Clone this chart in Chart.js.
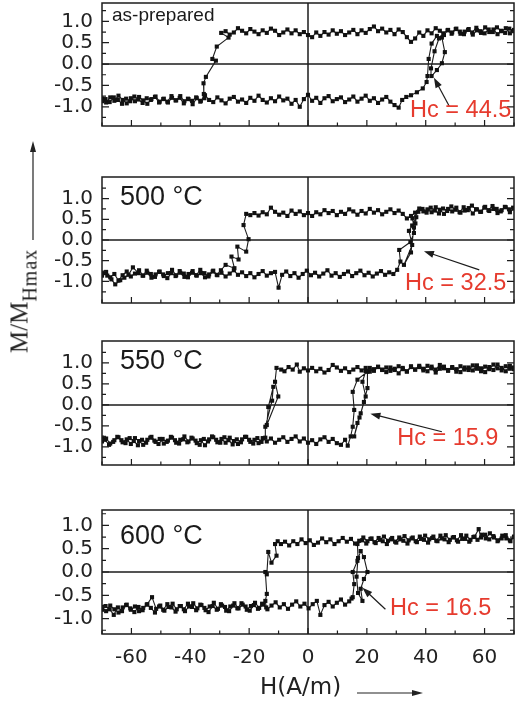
<!DOCTYPE html>
<html>
<head>
<meta charset="utf-8">
<script src="https://cdn.jsdelivr.net/npm/chart.js@4.4.0/dist/chart.umd.min.js"></script>
<style>
  html, body { margin: 0; padding: 0; background: #fff; }
  #page { position: relative; width: 517px; height: 704px; overflow: hidden; background: #fff; }
  #page canvas { position: absolute; left: 0; }
  #ytitle { position: absolute; left: 20px; top: 301px; transform: translate(-50%, -50%) rotate(-90deg);
            font: 25px/25px "Liberation Serif", "Times New Roman", serif; color: #222; white-space: nowrap; }
  #ytitle span { font-size: 20px; position: relative; top: 9px; letter-spacing: 1px; }
  #xtitle { position: absolute; left: 260px; top: 675px; font: 23px/23px "DejaVu Sans", sans-serif; color: #222; white-space: nowrap; }
  #arrows { position: absolute; left: 0; top: 0; }
</style>
</head>
<body>
<div id="page">
  <canvas id="c1" width="518" height="143" style="top:-7px"></canvas>
  <canvas id="c2" width="518" height="146" style="top:167px"></canvas>
  <canvas id="c3" width="518" height="144" style="top:331px"></canvas>
  <canvas id="c4" width="518" height="204" style="top:500px"></canvas>
  <div id="ytitle">M/M<span>Hmax</span></div>
  <div id="xtitle">H(A/m)</div>
  <svg id="arrows" width="517" height="704">
    <line x1="33" y1="240" x2="33" y2="150" stroke="#222" stroke-width="1.2"/>
    <polygon points="33,141 30,152 36,152" fill="#222"/>
    <line x1="357" y1="693" x2="414" y2="693" stroke="#222" stroke-width="1.2"/>
    <polygon points="423,693 412,690 412,696" fill="#222"/>
  </svg>
</div>
<script>
// tick positions
const xTicks = [-60, -40, -20, 0, 20, 40, 60];
const xMinorTicks = [-70, -50, -30, -10, 10, 30, 50, 70];
const yTicks = [-1, -0.5, 0, 0.5, 1];
const yMinorTicks = [-1.25, -0.75, -0.25, 0.25, 0.75, 1.25];

// as-prepared: [H, M/MHmax]
const asPrepDown = [[70,0.8],[68.6,0.72],[67.2,0.84],[65.8,0.77],[64.4,0.7],[63,0.81],[61.6,0.75],[60.2,0.86],[58.8,0.73],[57.4,0.79],[56,0.69],[54.6,0.82],[53.2,0.76],[51.8,0.71],[50.4,0.83],[49,0.74],[47.6,0.8],[46.2,0.68],[44.8,0.78],[43.4,0.84],[42,0.72],[40.6,0.79],[39.2,0.66],[37.8,0.74],[36.4,0.6],[35,0.52],[33.6,0.63],[32.2,0.75],[30.8,0.81],[29.4,0.7],[28,0.8],[26.6,0.74],[25.2,0.83],[23.8,0.77],[22.4,0.88],[21,0.82],[19.6,0.73],[18.2,0.79],[16.8,0.7],[15.4,0.8],[14,0.74],[12.6,0.68],[11.2,0.77],[9.8,0.71],[8.4,0.79],[7,0.69],[5.6,0.75],[4.2,0.66],[2.8,0.74],[1.4,0.63],[0,0.68],[-1.4,0.75],[-2.8,0.7],[-4.2,0.79],[-5.6,0.72],[-7,0.81],[-8.4,0.74],[-9.8,0.68],[-11.2,0.78],[-12.6,0.83],[-14,0.73],[-15.4,0.79],[-16.8,0.7],[-18.2,0.76],[-19.6,0.82],[-21,0.72],[-22.4,0.78],[-23.8,0.84],[-25.2,0.74],[-26.6,0.69],[-28,0.77],[-29.5,0.73],[-27,0.62],[-31,0.41],[-32.5,0.12],[-31.3,0.08],[-34.7,-0.3],[-35.5,-0.45],[-35.4,-0.7],[-35.2,-0.8],[-36.6,-0.88],[-38,-0.78],[-39.4,-0.86],[-40.8,-0.81],[-42.2,-0.92],[-43.6,-0.79],[-45,-0.85],[-46.4,-0.75],[-47.8,-0.88],[-49.2,-0.82],[-50.6,-0.9],[-52,-0.77],[-53.4,-0.84],[-54.8,-0.8],[-56.2,-0.91],[-57.6,-0.83],[-59,-0.76],[-60.4,-0.87],[-61.8,-0.81],[-63.2,-0.93],[-64.6,-0.84],[-66,-0.78],[-67.4,-0.89],[-68.8,-0.82],[-70,-0.87]];
const asPrepUp = [[-70,-0.81],[-68.6,-0.9],[-67.2,-0.78],[-65.8,-0.86],[-64.4,-0.74],[-63,-0.84],[-61.6,-0.92],[-60.2,-0.8],[-58.8,-0.87],[-57.4,-0.77],[-56,-0.85],[-54.6,-0.93],[-53.2,-0.82],[-51.8,-0.76],[-50.4,-0.88],[-49,-0.81],[-47.6,-0.9],[-46.2,-0.79],[-44.8,-0.85],[-43.4,-0.75],[-42,-0.87],[-40.6,-0.82],[-39.2,-0.94],[-37.8,-0.8],[-36.4,-0.86],[-35,-0.73],[-33.6,-0.84],[-32.2,-0.89],[-30.8,-0.78],[-29.4,-0.85],[-28,-0.92],[-26.6,-0.81],[-25.2,-0.77],[-23.8,-0.88],[-22.4,-0.83],[-21,-0.91],[-19.6,-0.79],[-18.2,-0.86],[-16.8,-0.74],[-15.4,-0.84],[-14,-0.9],[-12.6,-0.8],[-11.2,-0.87],[-9.8,-0.76],[-8.4,-0.85],[-7,-0.81],[-5.6,-0.93],[-4.2,-0.84],[-2.8,-1.0],[-1.4,-0.82],[0,-0.72],[1.4,-0.86],[2.8,-0.79],[4.2,-0.91],[5.6,-0.8],[7,-0.75],[8.4,-0.87],[9.8,-0.82],[11.2,-0.78],[12.6,-0.89],[14,-0.83],[15.4,-0.76],[16.8,-0.88],[18.2,-0.81],[19.6,-0.74],[21,-0.86],[22.4,-0.8],[23.8,-0.91],[25.2,-0.83],[26.6,-0.77],[28,-0.88],[29.4,-0.96],[30.8,-1.02],[32,-0.84],[33.4,-0.77],[35,-0.73],[37,-0.66],[39,-0.57],[40.3,-0.42],[40.6,-0.28],[41,0.12],[42,0.48],[43.8,0.66],[45.5,0.62],[46.5,0.28],[45.5,0.02],[43.8,-0.14],[42,-0.28],[41.8,-0.1],[43,0.3],[44.5,0.6],[46,0.72],[47.4,0.79],[48.8,0.71],[50.2,0.82],[51.6,0.76],[53,0.7],[54.4,0.8],[55.8,0.74],[57.2,0.85],[58.6,0.77],[60,0.72],[61.4,0.81],[62.8,0.75],[64.2,0.86],[65.6,0.78],[67,0.73],[68.4,0.83],[69.6,0.77]];

// 500 °C
const t500Down = [[70,0.76],[68.6,0.67],[67.2,0.79],[65.8,0.72],[64.4,0.65],[63,0.75],[61.6,0.7],[60.2,0.8],[58.8,0.68],[57.4,0.74],[56,0.64],[54.6,0.77],[53.2,0.71],[51.8,0.66],[50.4,0.78],[49,0.69],[47.6,0.75],[46.2,0.63],[44.8,0.73],[43.4,0.79],[42,0.67],[40.6,0.74],[39.2,0.69],[37.8,0.76],[36.4,0.66],[35,0.58],[33.6,0.52],[32.2,0.63],[30.8,0.71],[29.4,0.65],[28,0.74],[26.6,0.68],[25.2,0.62],[23.8,0.72],[22.4,0.66],[21,0.75],[19.6,0.64],[18.2,0.7],[16.8,0.61],[15.4,0.69],[14,0.74],[12.6,0.63],[11.2,0.68],[9.8,0.6],[8.4,0.7],[7,0.65],[5.6,0.72],[4.2,0.62],[2.8,0.67],[1.4,0.58],[0,0.65],[-1.4,0.6],[-2.8,0.69],[-4.2,0.63],[-5.6,0.71],[-7,0.58],[-8.4,0.66],[-9.8,0.61],[-11.2,0.68],[-12.6,0.78],[-14,0.62],[-15.4,0.67],[-16.8,0.59],[-18.2,0.65],[-19.6,0.6],[-21,0.63],[-21.9,0.36],[-20.2,0.02],[-21,-0.28],[-24,-0.16],[-23.6,-0.47],[-26,-0.4],[-25,-0.68],[-28,-0.6],[-29.6,-0.73],[-31,-0.84],[-32.4,-0.76],[-33.8,-0.88],[-35.2,-0.8],[-36.6,-0.72],[-38,-0.85],[-39.4,-0.79],[-40.8,-0.9],[-42.2,-0.81],[-43.6,-0.75],[-45,-0.87],[-46.4,-0.8],[-47.8,-0.92],[-49.2,-0.83],[-50.6,-0.77],[-52,-0.89],[-53.4,-0.82],[-54.8,-0.74],[-56.2,-0.86],[-57.6,-0.8],[-59.5,-0.66],[-61,-0.84],[-62.4,-0.91],[-63.8,-0.97],[-65.5,-1.07],[-66.8,-0.95],[-68.2,-0.86],[-69.6,-0.8]];
const t500Up = [[-70,-0.86],[-68.6,-0.77],[-67.2,-0.9],[-65.8,-0.82],[-64.4,-0.98],[-63,-0.85],[-61.6,-0.76],[-60.2,-0.88],[-58.8,-0.81],[-57.4,-0.73],[-56,-0.86],[-54.6,-0.79],[-53.2,-0.91],[-51.8,-0.83],[-50.4,-0.76],[-49,-0.87],[-47.6,-0.8],[-46.2,-0.72],[-44.8,-0.85],[-43.4,-0.79],[-42,-0.89],[-40.6,-0.82],[-39.2,-0.75],[-37.8,-0.86],[-36.4,-0.8],[-35,-0.9],[-33.6,-0.83],[-32.2,-0.74],[-30.8,-0.85],[-29.4,-0.79],[-28,-0.88],[-26.6,-0.81],[-25.2,-0.73],[-23.8,-0.84],[-22.4,-0.78],[-21,-0.87],[-19.6,-0.8],[-18.2,-0.9],[-16.8,-0.82],[-15.4,-0.75],[-14,-0.86],[-12.6,-0.8],[-11.2,-0.77],[-10,-1.15],[-8.8,-0.84],[-7.4,-0.76],[-6,-0.87],[-4.6,-0.8],[-3.2,-0.91],[-1.8,-0.82],[-0.4,-0.74],[1,-0.85],[2.4,-0.79],[3.8,-0.88],[5.2,-0.81],[6.6,-0.73],[8,-0.86],[9.4,-0.8],[10.8,-0.89],[12.2,-0.82],[13.6,-0.76],[15,-0.87],[16.4,-0.8],[17.8,-0.74],[19.2,-0.85],[20.6,-0.79],[22,-0.88],[23.4,-0.81],[24.8,-0.75],[26.2,-0.84],[27.6,-0.78],[29,-0.82],[30.3,-0.72],[31.4,-0.52],[31,-0.24],[34.8,-0.05],[36,0.17],[36.5,0.4],[36.8,0.55],[35.4,0.35],[34.3,0.22],[35.4,-0.12],[32.6,-0.6],[35,-0.3],[36,0.3],[35.5,0.52],[37.5,0.68],[38.9,0.75],[40.3,0.66],[41.7,0.78],[43.1,0.71],[44.5,0.64],[45.9,0.76],[47.3,0.7],[48.7,0.81],[50.1,0.73],[51.5,0.67],[52.9,0.79],[54.3,0.72],[55.7,0.83],[57.1,0.74],[58.5,0.68],[59.9,0.78],[61.3,0.72],[62.7,0.82],[64.1,0.75],[65.5,0.69],[66.9,0.8],[68.3,0.74],[69.7,0.78]];

// 550 °C
const t550Down = [[70,0.85],[68.6,0.93],[67.2,0.8],[65.8,0.88],[64.4,0.96],[63,0.83],[61.6,0.9],[60.2,0.78],[58.8,0.87],[57.4,0.94],[56,0.82],[54.6,0.89],[53.2,0.84],[51.8,0.92],[50.4,0.79],[49,0.88],[47.6,0.83],[46.2,0.91],[44.8,0.86],[43.4,0.77],[42,0.87],[40.6,0.93],[39.2,0.82],[37.8,0.9],[36.4,0.84],[35,0.92],[33.6,0.8],[32.2,0.88],[30.8,0.75],[29.4,0.86],[28,0.81],[26.6,0.89],[25.2,0.83],[23.8,0.91],[22.4,0.85],[21,0.79],[19.6,0.88],[18.2,0.82],[16.8,0.9],[15.4,0.84],[14,0.78],[12.6,0.87],[11.2,0.81],[9.8,0.89],[8.4,0.95],[7,0.83],[5.6,0.77],[4.2,0.86],[2.8,0.8],[1.4,0.88],[0,0.82],[-1.4,0.87],[-2.8,0.79],[-3.8,0.96],[-5.2,0.84],[-6.6,0.9],[-8,0.8],[-9.1,0.84],[-10.7,0.88],[-11.2,0.55],[-10.1,0.2],[-14,-0.48],[-13.5,-0.05],[-11.8,0.43],[-12.2,0.1],[-14.5,-0.52],[-14.5,-0.78],[-15.8,-0.88],[-17.2,-0.79],[-18.6,-0.92],[-20,-0.83],[-21.4,-0.76],[-22.8,-0.89],[-24.2,-0.82],[-25.6,-0.94],[-27,-0.84],[-28.4,-0.77],[-29.8,-0.9],[-31.2,-0.83],[-32.6,-0.75],[-34,-0.87],[-35.4,-0.81],[-36.8,-0.95],[-38.2,-0.85],[-39.6,-0.78],[-41,-0.89],[-42.4,-0.82],[-43.8,-0.92],[-45.2,-0.84],[-46.6,-0.76],[-48,-0.88],[-49.4,-0.81],[-50.8,-0.93],[-52.2,-0.85],[-53.6,-0.78],[-55,-0.9],[-56.4,-0.83],[-57.8,-0.96],[-59.2,-0.86],[-60.6,-0.79],[-62,-0.91],[-63.4,-0.84],[-64.8,-0.76],[-66.2,-0.88],[-67.6,-0.95],[-69,-0.83],[-70,-0.78]];
const t550Up = [[-70,-0.87],[-68.6,-0.8],[-67.2,-0.92],[-65.8,-0.84],[-64.4,-0.77],[-63,-0.89],[-61.6,-0.82],[-60.2,-0.93],[-58.8,-0.79],[-57.4,-0.86],[-56,-0.95],[-54.6,-0.83],[-53.2,-0.76],[-51.8,-0.88],[-50.4,-0.81],[-49,-0.92],[-47.6,-0.85],[-46.2,-0.78],[-44.8,-0.9],[-43.4,-0.83],[-42,-0.75],[-40.6,-0.87],[-39.2,-0.8],[-37.8,-0.91],[-36.4,-0.84],[-35,-0.96],[-33.6,-0.82],[-32.2,-0.77],[-30.8,-0.89],[-29.4,-0.81],[-28,-0.9],[-26.6,-0.78],[-25.2,-0.86],[-23.8,-0.93],[-22.4,-0.82],[-21,-0.76],[-19.6,-0.88],[-18.2,-0.83],[-16.8,-0.91],[-15.4,-0.79],[-14,-0.87],[-12.6,-0.8],[-11.2,-0.9],[-9.8,-0.83],[-8.4,-0.77],[-7,-0.88],[-5.6,-0.81],[-4.2,-0.75],[-2.8,-0.87],[-1.4,-0.8],[0,-0.9],[1.4,-0.84],[2.8,-0.93],[4.2,-0.82],[5.6,-0.77],[7,-0.88],[8.4,-0.81],[9.8,-0.91],[11.2,-0.95],[12.6,-0.83],[13.5,-0.97],[14.5,-0.75],[15.2,-0.52],[15.7,-0.12],[15.2,0.31],[16.8,0.6],[20.2,0.79],[20.2,0.4],[19,0.07],[17.9,-0.2],[16.8,-0.43],[15.7,-0.75],[17.5,-0.3],[19.6,0.2],[18.5,0.55],[19.6,0.8],[21,0.88],[22.4,0.81],[23.8,0.9],[25.2,0.84],[26.6,0.78],[28,0.89],[29.4,0.83],[30.8,0.92],[32.2,0.85],[33.6,0.79],[35,0.9],[36.4,0.84],[37.8,0.93],[39.2,0.86],[40.6,0.8],[42,0.91],[43.4,0.84],[44.8,0.95],[46.2,0.87],[47.6,0.81],[49,0.9],[50.4,0.85],[51.8,0.78],[53.2,0.89],[54.6,0.83],[56,0.94],[57.4,0.86],[58.8,0.8],[60.2,0.91],[61.6,0.85],[63,0.96],[64.4,0.87],[65.8,0.82],[67.2,0.92],[68.6,0.86],[70,0.89]];

// 600 °C
const t600Down = [[70,0.75],[68.6,0.68],[67.2,0.79],[65.8,0.72],[64.4,0.66],[63,0.77],[61.6,0.7],[60.2,0.8],[58.8,0.74],[58,0.92],[56.6,0.76],[55.2,0.69],[53.8,0.78],[52.4,0.71],[51,0.65],[49.6,0.75],[48.2,0.69],[46.8,0.79],[45.4,0.72],[44,0.66],[42.6,0.76],[41.2,0.7],[39.8,0.78],[38.4,0.71],[37,0.64],[35.6,0.74],[34.2,0.68],[32.8,0.77],[31.4,0.7],[30,0.63],[28.6,0.73],[27.2,0.67],[25.8,0.76],[24.4,0.69],[23,0.62],[21.6,0.72],[20.2,0.66],[18.8,0.74],[17.4,0.67],[16,0.61],[14.6,0.71],[13.2,0.65],[11.8,0.73],[10.4,0.66],[9,0.6],[7.6,0.7],[6.2,0.64],[4.8,0.72],[3.4,0.63],[2,0.58],[0.6,0.68],[-0.8,0.62],[-2.2,0.7],[-3.6,0.6],[-5,0.66],[-6.4,0.57],[-7.8,0.65],[-9.2,0.6],[-10.3,0.66],[-11.2,0.6],[-10.7,0.35],[-12.4,0.2],[-13.5,0.43],[-14,-0.05],[-14.5,0.0],[-14,-0.47],[-14.5,-0.62],[-14.2,-0.76],[-15.6,-0.68],[-17,-0.79],[-18.4,-0.71],[-19.8,-0.83],[-21.2,-0.74],[-22.6,-0.67],[-24,-0.78],[-25.4,-0.72],[-26.8,-0.84],[-28.2,-0.75],[-29.6,-0.69],[-31,-0.81],[-32.4,-0.73],[-33.8,-0.86],[-35.2,-0.77],[-36.6,-0.7],[-38,-0.82],[-39.4,-0.75],[-40.8,-0.68],[-42.2,-0.8],[-43.6,-0.73],[-45,-0.85],[-46.4,-0.76],[-47.8,-0.69],[-49.2,-0.81],[-50.6,-0.74],[-52,-0.87],[-53.4,-0.77],[-54.8,-0.7],[-56.2,-0.82],[-57.6,-0.75],[-59,-0.86],[-60.4,-0.78],[-61.8,-0.71],[-63.2,-0.84],[-64.6,-0.76],[-66,-0.92],[-67.4,-0.8],[-68.8,-0.73],[-70,-0.81]];
const t600Up = [[-70,-0.75],[-68.6,-0.84],[-67.2,-0.72],[-65.8,-0.8],[-64.4,-0.87],[-63,-0.76],[-61.6,-0.7],[-60.2,-0.81],[-58.8,-0.74],[-57.4,-0.84],[-56,-0.77],[-54.6,-0.69],[-53,-0.54],[-51.6,-0.79],[-50.2,-0.72],[-48.8,-0.83],[-47.4,-0.75],[-46,-0.68],[-44.6,-0.8],[-43.2,-0.73],[-41.8,-0.84],[-40.4,-0.74],[-39,-0.67],[-37.6,-0.78],[-36.2,-0.71],[-34.8,-0.82],[-33.4,-0.74],[-32,-0.66],[-30.6,-0.79],[-29.2,-0.72],[-27.8,-0.83],[-26.4,-0.74],[-25,-0.67],[-23.6,-0.78],[-22.2,-0.7],[-20.8,-0.81],[-19.4,-0.73],[-18,-0.66],[-16.6,-0.77],[-15.2,-0.7],[-13.8,-0.8],[-12.4,-0.72],[-11,-0.65],[-9.6,-0.76],[-8.2,-0.69],[-6.8,-0.79],[-5.4,-0.7],[-4,-0.63],[-2.6,-0.74],[-1.2,-0.68],[0.2,-0.78],[1.6,-0.69],[3,-0.62],[4.2,-0.92],[5.6,-0.71],[7,-0.64],[8.4,-0.74],[9.8,-0.66],[11.2,-0.59],[12.6,-0.7],[14,-0.63],[14.8,-0.57],[15.2,-0.54],[15.7,-0.26],[15.2,0.0],[16.8,0.24],[17.9,0.45],[19,0.32],[20.2,0.0],[19,-0.15],[17.9,-0.36],[18.5,-0.62],[17,-0.45],[16.5,-0.1],[17,0.3],[16.8,0.6],[18.4,0.68],[19.8,0.61],[21.2,0.71],[22.6,0.64],[24,0.73],[25.4,0.66],[26.8,0.6],[28.2,0.7],[29.6,0.65],[31,0.74],[32.4,0.67],[33.8,0.61],[35.2,0.72],[36.6,0.66],[38,0.76],[39.4,0.69],[40.8,0.63],[42.2,0.73],[43.6,0.67],[45,0.78],[46.4,0.7],[47.8,0.64],[49.2,0.74],[50.6,0.68],[52,0.79],[53.4,0.71],[54.8,0.65],[56.2,0.75],[57.6,0.69],[59,0.8],[60.4,0.72],[61.8,0.83],[63.2,0.74],[64.6,0.68],[66,0.78],[67.4,0.72],[68.8,0.66],[70,0.76]];

const INK = '#1c1c1c';
const RED = '#e63b2e';
const TICK_FONT = { family: '"DejaVu Sans", sans-serif', size: 20 };

const panels = [
    { id: 'c1', yMin: -1.45, yMax: 1.43, down: asPrepDown, up: asPrepUp, showX: false,
      label: 'as-prepared', labelFont: '19px "Liberation Sans", Arial, sans-serif', labelDx: 10, labelDy: 18,
      hc: 'Hc = 44.5', hcAt: [34.7, -1.24], arrow: [48.1, -1.0, 42.8, -0.32] },
    { id: 'c2', yMin: -1.52, yMax: 1.52, down: t500Down, up: t500Up, showX: false,
      label: '500 °C', labelFont: '27px "Liberation Sans", Arial, sans-serif', labelDx: 18, labelDy: 28,
      hc: 'Hc = 32.5', hcAt: [33.0, -1.2], arrow: [58.2, -0.72, 39.4, -0.27] },
    { id: 'c3', yMin: -1.43, yMax: 1.52, down: t550Down, up: t550Up, showX: false,
      label: '550 °C', labelFont: '27px "Liberation Sans", Arial, sans-serif', labelDx: 18, labelDy: 28,
      hc: 'Hc = 15.9', hcAt: [30.3, -0.95], arrow: [45.5, -0.64, 21.2, -0.21] },
    { id: 'c4', yMin: -1.33, yMax: 1.33, down: t600Down, up: t600Up, showX: true,
      label: '600 °C', labelFont: '27px "Liberation Sans", Arial, sans-serif', labelDx: 18, labelDy: 34,
      hc: 'Hc = 16.5', hcAt: [27.9, -0.92], arrow: [26.3, -0.8, 18.5, -0.34] }
];

function loopDataset(points) {
    return {
        data: points.map(p => ({x: p[0], y: p[1]})),
        showLine: true,
        borderColor: INK,
        borderWidth: 1.1,
        pointStyle: 'rect',
        pointRadius: 2.9,
        pointBackgroundColor: '#111',
        pointBorderColor: '#111',
        pointBorderWidth: 0,
        tension: 0
    };
}

// frame, inward ticks, zero lines and annotations
const panelDecor = {
    id: 'panelDecor',
    beforeDatasetsDraw(chart) {
        const {ctx, chartArea: a, scales: {x, y}} = chart;
        ctx.save();
        ctx.strokeStyle = INK;
        ctx.lineWidth = 1.5;
        ctx.beginPath();
        ctx.moveTo(a.left, y.getPixelForValue(0));
        ctx.lineTo(a.right, y.getPixelForValue(0));
        ctx.moveTo(x.getPixelForValue(0), a.top);
        ctx.lineTo(x.getPixelForValue(0), a.bottom);
        ctx.stroke();
        ctx.restore();
    },
    afterDraw(chart) {
        const {ctx, chartArea: a, scales: {x, y}} = chart;
        const p = chart.options.plugins.panelDecor.panel;
        ctx.save();
        ctx.strokeStyle = INK;
        ctx.lineWidth = 1.5;
        ctx.strokeRect(a.left, a.top, a.right - a.left, a.bottom - a.top);

        ctx.lineWidth = 1.2;
        ctx.beginPath();
        yTicks.concat(yMinorTicks).forEach(v => {
            if (v < p.yMin || v > p.yMax) return;
            const len = yTicks.includes(v) ? 7 : 4;
            const py = y.getPixelForValue(v);
            ctx.moveTo(a.left, py); ctx.lineTo(a.left + len, py);
            ctx.moveTo(a.right, py); ctx.lineTo(a.right - len, py);
        });
        xTicks.concat(xMinorTicks).forEach(v => {
            const len = xTicks.includes(v) ? 6 : 3.5;
            const px = x.getPixelForValue(v);
            ctx.moveTo(px, a.bottom); ctx.lineTo(px, a.bottom - len);
        });
        ctx.stroke();

        // panel label
        ctx.fillStyle = '#1a1a1a';
        ctx.font = p.labelFont;
        ctx.textBaseline = 'alphabetic';
        ctx.fillText(p.label, a.left + p.labelDx, a.top + p.labelDy);

        // coercivity arrow
        const [h0, m0, h1, m1] = p.arrow;
        const x0 = x.getPixelForValue(h0), y0 = y.getPixelForValue(m0);
        const x1 = x.getPixelForValue(h1), y1 = y.getPixelForValue(m1);
        const ang = Math.atan2(y1 - y0, x1 - x0);
        ctx.lineWidth = 1.2;
        ctx.beginPath();
        ctx.moveTo(x0, y0);
        ctx.lineTo(x1 - 8 * Math.cos(ang), y1 - 8 * Math.sin(ang));
        ctx.stroke();
        ctx.beginPath();
        ctx.moveTo(x1, y1);
        ctx.lineTo(x1 - 10 * Math.cos(ang) + 3.5 * Math.sin(ang), y1 - 10 * Math.sin(ang) - 3.5 * Math.cos(ang));
        ctx.lineTo(x1 - 10 * Math.cos(ang) - 3.5 * Math.sin(ang), y1 - 10 * Math.sin(ang) + 3.5 * Math.cos(ang));
        ctx.closePath();
        ctx.fillStyle = INK;
        ctx.fill();

        // coercivity value
        ctx.fillStyle = RED;
        ctx.font = '23.5px "Liberation Sans", Arial, sans-serif';
        ctx.fillText(p.hc, x.getPixelForValue(p.hcAt[0]), y.getPixelForValue(p.hcAt[1]));
        ctx.restore();
    }
};

panels.forEach(p => {
    new Chart(document.getElementById(p.id), {
        type: 'scatter',
        data: { datasets: [loopDataset(p.down), loopDataset(p.up)] },
        options: {
            responsive: false,
            animation: false,
            devicePixelRatio: 1,
            layout: { padding: { top: 10, left: 0, right: 0, bottom: 0 } },
            plugins: {
                legend: { display: false },
                tooltip: { enabled: false },
                panelDecor: { panel: p }
            },
            scales: {
                x: {
                    type: 'linear',
                    min: -70,
                    max: 70,
                    grid: { display: false, drawTicks: false },
                    border: { display: false },
                    ticks: {
                        display: p.showX,
                        font: TICK_FONT,
                        color: '#222',
                        padding: 12,
                        maxRotation: 0,
                        callback: v => String(v)
                    },
                    afterBuildTicks: s => { s.ticks = xTicks.map(v => ({value: v})); },
                    afterFit: s => {
                        s.height = p.showX ? 70 : 10;
                        s.paddingLeft = 0;
                        s.paddingRight = 0;
                    }
                },
                y: {
                    type: 'linear',
                    min: p.yMin,
                    max: p.yMax,
                    grid: { display: false, drawTicks: false },
                    border: { display: false },
                    ticks: {
                        font: TICK_FONT,
                        color: '#222',
                        padding: 9,
                        callback: v => v.toFixed(1)
                    },
                    afterBuildTicks: s => { s.ticks = yTicks.map(v => ({value: v})); },
                    afterFit: s => {
                        s.width = 102;
                        s.paddingTop = 0;
                        s.paddingBottom = 0;
                    }
                }
            }
        },
        plugins: [panelDecor]
    });
});
</script>
</body>
</html>
